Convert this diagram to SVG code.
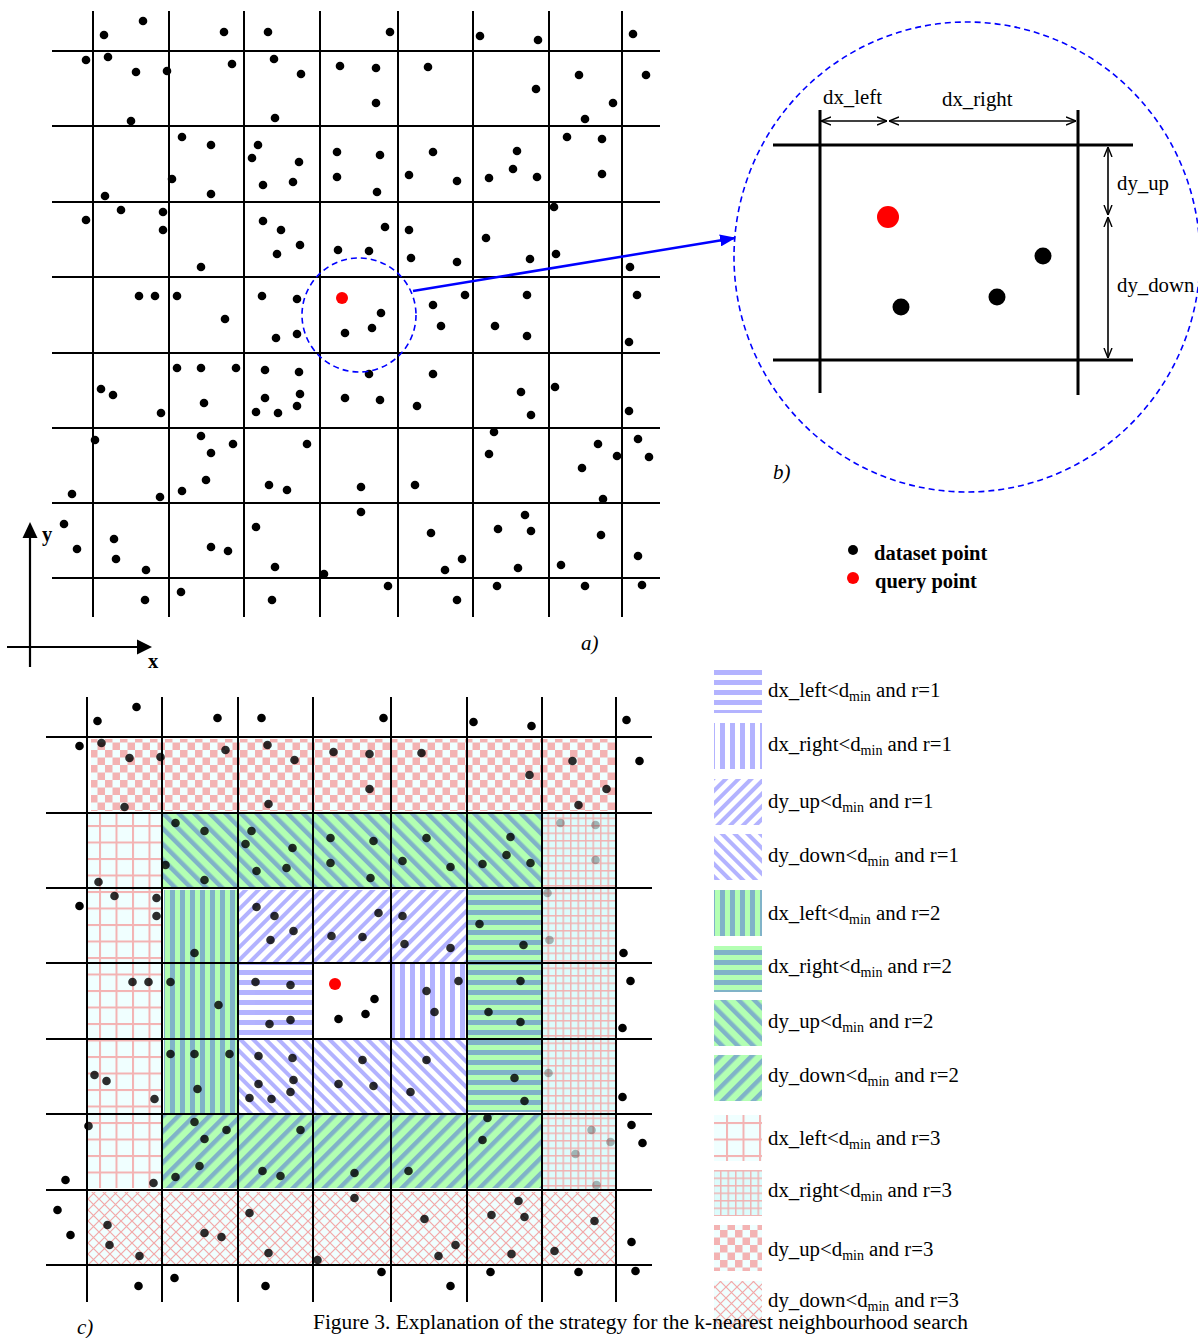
<svg xmlns="http://www.w3.org/2000/svg" xmlns:xlink="http://www.w3.org/1999/xlink" width="1198" height="1338" viewBox="0 0 1198 1338">
<style>
.g{stroke:#000;stroke-width:2;fill:none}
.gb{stroke:#000;stroke-width:3;fill:none}
.t{font-family:"Liberation Serif","Times New Roman",serif;font-size:20.8px;fill:#000}
.tb{font-family:"Liberation Serif","Times New Roman",serif;font-size:20.5px;font-weight:bold;fill:#000}
.ti{font-family:"Liberation Serif","Times New Roman",serif;font-size:21px;font-style:italic;fill:#000}
.dash{fill:none;stroke:#0000ff;stroke-width:1.6;stroke-dasharray:6 4}
#dotsA circle{fill:#000}
</style>
<defs>
<marker id="ah" viewBox="0 0 10 10" refX="10" refY="5" markerWidth="10" markerHeight="10" markerUnits="userSpaceOnUse" orient="auto-start-reverse"><path d="M0,1 L10,5 L0,9" fill="none" stroke="#000" stroke-width="1.4"/></marker>
<marker id="ab" viewBox="0 0 16 12" refX="15" refY="6" markerWidth="16" markerHeight="12" markerUnits="userSpaceOnUse" orient="auto"><path d="M0,0 L16,6 L0,12 Z" fill="#0000ff"/></marker>
<pattern id="p1h" width="10" height="10" patternUnits="userSpaceOnUse"><rect width="10" height="10" fill="#fff"/><rect width="10" height="5" fill="#b3b3ff"/></pattern>
<pattern id="p1v" width="10" height="10" patternUnits="userSpaceOnUse"><rect width="10" height="10" fill="#fff"/><rect width="5" height="10" fill="#b3b3ff"/></pattern>
<pattern id="p1u" width="9" height="9" patternUnits="userSpaceOnUse" patternTransform="rotate(45)"><rect width="9" height="9" fill="#fff"/><rect width="4" height="9" fill="#b3b3ff"/></pattern>
<pattern id="p1d" width="9" height="9" patternUnits="userSpaceOnUse" patternTransform="rotate(-45)"><rect width="9" height="9" fill="#fff"/><rect width="4" height="9" fill="#b3b3ff"/></pattern>
<pattern id="p2v" width="10" height="10" patternUnits="userSpaceOnUse"><rect width="10" height="10" fill="#b3ffb3"/><rect width="5" height="10" fill="#80b3c8"/></pattern>
<pattern id="p2h" width="10" height="10" patternUnits="userSpaceOnUse"><rect width="10" height="10" fill="#b3ffb3"/><rect width="10" height="5" fill="#80b3c8"/></pattern>
<pattern id="p2u" width="11" height="11" patternUnits="userSpaceOnUse" patternTransform="rotate(-45)"><rect width="11" height="11" fill="#b3ffb3"/><rect width="4.5" height="11" fill="#80b3c8"/></pattern>
<pattern id="p2d" width="11" height="11" patternUnits="userSpaceOnUse" patternTransform="rotate(45)"><rect width="11" height="11" fill="#b3ffb3"/><rect width="4.5" height="11" fill="#80b3c8"/></pattern>
<pattern id="p3l" width="16.5" height="16.5" patternUnits="userSpaceOnUse"><rect width="16.5" height="16.5" fill="#f0ffff"/><rect width="2" height="16.5" fill="#f3b3b3"/><rect width="16.5" height="2" fill="#f3b3b3"/></pattern>
<pattern id="p3r" width="7.5" height="7.5" patternUnits="userSpaceOnUse"><rect width="7.5" height="7.5" fill="#dcfcfc"/><rect width="1.5" height="7.5" fill="#f0b4b4"/><rect width="7.5" height="1.5" fill="#f0b4b4"/></pattern>
<pattern id="p3u" width="15" height="15" patternUnits="userSpaceOnUse"><rect width="15" height="15" fill="#f0ffff"/><rect width="7.5" height="7.5" fill="#f3b3b3"/><rect x="7.5" y="7.5" width="7.5" height="7.5" fill="#f3b3b3"/></pattern>
<pattern id="p3d" width="11" height="11" patternUnits="userSpaceOnUse"><rect width="11" height="11" fill="#f0ffff"/><path d="M0,0 L11,11 M11,0 L0,11" stroke="#f3a8a8" stroke-width="1.2"/></pattern>
<clipPath id="cOut"><path clip-rule="evenodd" d="M0,680H705V1338H0Z M87,737H616V1265H87Z M313,963H391V1039H313Z"/></clipPath>
<clipPath id="cCol"><path clip-rule="evenodd" d="M87,737H616V1265H87Z M542,813H616V1190H542Z M313,963H391V1039H313Z"/></clipPath>
<clipPath id="cRight"><rect x="542" y="813" width="74" height="377"/></clipPath>
</defs>
<rect width="1198" height="1338" fill="#fff"/>

<!-- Part a -->
<g id="gridA" class="g">
<path d="M93,11V617 M169,11V617 M244,11V617 M320,11V617 M398,11V617 M473,11V617 M549,11V617 M622,11V617"/>
<path d="M52,51H660 M52,126H660 M52,202H660 M52,277H660 M52,353H660 M52,428H660 M52,503H660 M52,578H660"/>
</g>
<g id="dotsA">
<circle cx="143" cy="21" r="4.3"/><circle cx="104" cy="35" r="4.3"/><circle cx="224" cy="32" r="4.3"/><circle cx="268" cy="32" r="4.3"/><circle cx="390" cy="32" r="4.3"/><circle cx="480" cy="36" r="4.3"/><circle cx="538" cy="40" r="4.3"/><circle cx="633" cy="34" r="4.3"/>
<circle cx="86" cy="60" r="4.3"/><circle cx="108" cy="57" r="4.3"/><circle cx="136" cy="72" r="4.3"/><circle cx="167" cy="71" r="4.3"/><circle cx="232" cy="64" r="4.3"/><circle cx="274" cy="59" r="4.3"/><circle cx="301" cy="74" r="4.3"/><circle cx="340" cy="66" r="4.3"/><circle cx="376" cy="68" r="4.3"/><circle cx="376" cy="103" r="4.3"/><circle cx="428" cy="67" r="4.3"/><circle cx="536" cy="89" r="4.3"/><circle cx="579" cy="75" r="4.3"/><circle cx="646" cy="75" r="4.3"/><circle cx="613" cy="103" r="4.3"/><circle cx="585" cy="119" r="4.3"/><circle cx="131" cy="121" r="4.3"/><circle cx="275" cy="118" r="4.3"/>
<circle cx="182" cy="137" r="4.3"/><circle cx="211" cy="145" r="4.3"/><circle cx="258" cy="145" r="4.3"/><circle cx="252" cy="158" r="4.3"/><circle cx="299" cy="162" r="4.3"/><circle cx="172" cy="179" r="4.3"/><circle cx="211" cy="194" r="4.3"/><circle cx="263" cy="185" r="4.3"/><circle cx="293" cy="182" r="4.3"/><circle cx="337" cy="152" r="4.3"/><circle cx="380" cy="155" r="4.3"/><circle cx="433" cy="152" r="4.3"/><circle cx="517" cy="151" r="4.3"/><circle cx="567" cy="137" r="4.3"/><circle cx="602" cy="139" r="4.3"/><circle cx="337" cy="177" r="4.3"/><circle cx="377" cy="192" r="4.3"/><circle cx="409" cy="175" r="4.3"/><circle cx="457" cy="181" r="4.3"/><circle cx="489" cy="178" r="4.3"/><circle cx="513" cy="169" r="4.3"/><circle cx="537" cy="177" r="4.3"/><circle cx="602" cy="174" r="4.3"/><circle cx="105" cy="196" r="4.3"/>
<circle cx="121" cy="210" r="4.3"/><circle cx="163" cy="212" r="4.3"/><circle cx="86" cy="220" r="4.3"/><circle cx="163" cy="230" r="4.3"/><circle cx="201" cy="267" r="4.3"/><circle cx="263" cy="221" r="4.3"/><circle cx="281" cy="230" r="4.3"/><circle cx="300" cy="245" r="4.3"/><circle cx="277" cy="254" r="4.3"/><circle cx="338" cy="250" r="4.3"/><circle cx="554" cy="207" r="4.3"/><circle cx="385" cy="227" r="4.3"/><circle cx="409" cy="230" r="4.3"/><circle cx="369" cy="251" r="4.3"/><circle cx="411" cy="258" r="4.3"/><circle cx="457" cy="262" r="4.3"/><circle cx="486" cy="238" r="4.3"/><circle cx="530" cy="259" r="4.3"/><circle cx="556" cy="254" r="4.3"/><circle cx="630" cy="267" r="4.3"/>
<circle cx="139" cy="296" r="4.3"/><circle cx="155" cy="296" r="4.3"/><circle cx="177" cy="296" r="4.3"/><circle cx="225" cy="319" r="4.3"/><circle cx="262" cy="296" r="4.3"/><circle cx="297" cy="299" r="4.3"/><circle cx="297" cy="334" r="4.3"/><circle cx="276" cy="338" r="4.3"/><circle cx="381" cy="313" r="4.3"/><circle cx="345" cy="333" r="4.3"/><circle cx="372" cy="328" r="4.3"/><circle cx="433" cy="305" r="4.3"/><circle cx="441" cy="326" r="4.3"/><circle cx="465" cy="295" r="4.3"/><circle cx="527" cy="295" r="4.3"/><circle cx="495" cy="326" r="4.3"/><circle cx="527" cy="336" r="4.3"/><circle cx="637" cy="295" r="4.3"/><circle cx="629" cy="342" r="4.3"/>
<circle cx="177" cy="368" r="4.3"/><circle cx="201" cy="368" r="4.3"/><circle cx="236" cy="368" r="4.3"/><circle cx="265" cy="370" r="4.3"/><circle cx="299" cy="372" r="4.3"/><circle cx="101" cy="389" r="4.3"/><circle cx="113" cy="395" r="4.3"/><circle cx="204" cy="403" r="4.3"/><circle cx="161" cy="413" r="4.3"/><circle cx="265" cy="398" r="4.3"/><circle cx="300" cy="394" r="4.3"/><circle cx="297" cy="406" r="4.3"/><circle cx="256" cy="412" r="4.3"/><circle cx="278" cy="413" r="4.3"/><circle cx="369" cy="374" r="4.3"/><circle cx="433" cy="374" r="4.3"/><circle cx="345" cy="398" r="4.3"/><circle cx="380" cy="400" r="4.3"/><circle cx="417" cy="406" r="4.3"/><circle cx="521" cy="392" r="4.3"/><circle cx="531" cy="415" r="4.3"/><circle cx="555" cy="387" r="4.3"/><circle cx="629" cy="411" r="4.3"/>
<circle cx="95" cy="440" r="4.3"/><circle cx="201" cy="436" r="4.3"/><circle cx="211" cy="453" r="4.3"/><circle cx="233" cy="444" r="4.3"/><circle cx="307" cy="444" r="4.3"/><circle cx="206" cy="480" r="4.3"/><circle cx="182" cy="491" r="4.3"/><circle cx="160" cy="497" r="4.3"/><circle cx="72" cy="494" r="4.3"/><circle cx="269" cy="485" r="4.3"/><circle cx="287" cy="490" r="4.3"/><circle cx="494" cy="432" r="4.3"/><circle cx="489" cy="454" r="4.3"/><circle cx="598" cy="444" r="4.3"/><circle cx="617" cy="456" r="4.3"/><circle cx="638" cy="439" r="4.3"/><circle cx="649" cy="457" r="4.3"/><circle cx="582" cy="468" r="4.3"/><circle cx="603" cy="499" r="4.3"/><circle cx="361" cy="487" r="4.3"/><circle cx="415" cy="485" r="4.3"/>
<circle cx="64" cy="524" r="4.3"/><circle cx="77" cy="549" r="4.3"/><circle cx="114" cy="539" r="4.3"/><circle cx="116" cy="559" r="4.3"/><circle cx="146" cy="570" r="4.3"/><circle cx="211" cy="547" r="4.3"/><circle cx="228" cy="551" r="4.3"/><circle cx="256" cy="527" r="4.3"/><circle cx="275" cy="567" r="4.3"/><circle cx="324" cy="574" r="4.3"/><circle cx="361" cy="512" r="4.3"/><circle cx="431" cy="533" r="4.3"/><circle cx="445" cy="570" r="4.3"/><circle cx="462" cy="559" r="4.3"/><circle cx="498" cy="529" r="4.3"/><circle cx="525" cy="515" r="4.3"/><circle cx="531" cy="531" r="4.3"/><circle cx="518" cy="568" r="4.3"/><circle cx="561" cy="565" r="4.3"/><circle cx="601" cy="535" r="4.3"/><circle cx="638" cy="556" r="4.3"/>
<circle cx="145" cy="600" r="4.3"/><circle cx="181" cy="592" r="4.3"/><circle cx="272" cy="600" r="4.3"/><circle cx="388" cy="586" r="4.3"/><circle cx="457" cy="600" r="4.3"/><circle cx="497" cy="586" r="4.3"/><circle cx="585" cy="586" r="4.3"/><circle cx="642" cy="585" r="4.3"/>
</g>
<g id="queryA"><circle cx="342" cy="298" r="6" fill="#ff0000"/></g>
<g id="zoomCircleA"><circle class="dash" cx="359" cy="315" r="57"/></g>
<g id="axes">
<path d="M30,667V535 M7,647H140" stroke="#000" stroke-width="2.2" fill="none"/>
<path d="M22.5,538 L30,522 L37.5,538 Z" fill="#000"/>
<path d="M137,639.5 L152,647 L137,654.5 Z" fill="#000"/>
<text class="tb" x="42" y="541">y</text>
<text class="tb" x="148" y="668">x</text>
</g>
<text class="ti" x="581" y="650">a)</text>

<!-- Part b -->
<g id="partB">
<ellipse class="dash" cx="967" cy="257" rx="233" ry="235"/>
<path class="gb" d="M773,145H1133 M773,360H1133 M820,110V393 M1078,110V395"/>
<circle cx="888" cy="217" r="11" fill="#ff0000"/>
<circle cx="1043" cy="256" r="8.5" fill="#000"/>
<circle cx="901" cy="307" r="8.5" fill="#000"/>
<circle cx="997" cy="297" r="8.5" fill="#000"/>
<text class="t" x="823" y="104">dx_left</text>
<text class="t" x="942" y="106">dx_right</text>
<text class="t" x="1117" y="190">dy_up</text>
<text class="t" x="1117" y="292">dy_down</text>
<text class="ti" x="773" y="479">b)</text>
</g>
<g id="dims" stroke="#000" stroke-width="1.6" fill="none">
<line x1="821" y1="121" x2="887" y2="121" marker-start="url(#ah)" marker-end="url(#ah)"/>
<line x1="889" y1="121" x2="1076" y2="121" marker-start="url(#ah)" marker-end="url(#ah)"/>
<line x1="1108" y1="147" x2="1108" y2="215" marker-start="url(#ah)" marker-end="url(#ah)"/>
<line x1="1108" y1="217" x2="1108" y2="358" marker-start="url(#ah)" marker-end="url(#ah)"/>
</g>
<g id="connectors">
<line x1="413" y1="291" x2="735" y2="238" stroke="#0000ff" stroke-width="2.5" marker-end="url(#ab)"/>
</g>

<g id="legendA">
<circle cx="853" cy="550" r="5" fill="#000"/>
<text class="tb" x="874" y="560">dataset point</text>
<circle cx="853" cy="578" r="6" fill="#ff0000"/>
<text class="tb" x="875" y="588">query point</text>
</g>

<!-- Part c -->
<g id="regionsC">
<rect x="91" y="739" width="525" height="72" fill="url(#p3u)"/>
<rect x="88" y="814" width="73" height="374" fill="url(#p3l)"/>
<rect x="88" y="1192" width="528" height="72" fill="url(#p3d)"/>
<rect x="542" y="813" width="74" height="376" fill="url(#p3r)"/>
<rect x="163" y="814" width="379" height="73" fill="url(#p2u)"/>
<rect x="163" y="1115" width="379" height="73" fill="url(#p2d)"/>
<rect x="164" y="890" width="73" height="223" fill="url(#p2v)"/>
<rect x="468" y="890" width="73" height="222" fill="url(#p2h)"/>
<rect x="239" y="890" width="227" height="72" fill="url(#p1u)"/>
<rect x="239" y="1040" width="227" height="73" fill="url(#p1d)"/>
<rect x="239" y="964" width="73" height="74" fill="url(#p1h)"/>
<rect x="392" y="964" width="74" height="74" fill="url(#p1v)"/>
</g>
<g id="gridC" class="g">
<path d="M87,697V1302 M162,697V1302 M238,697V1302 M313,697V1302 M391,697V1302 M467,697V1302 M542,697V1302 M616,697V1302"/>
<path d="M46,737H652 M46,813H652 M46,888H652 M46,963H652 M46,1039H652 M46,1114H652 M46,1190H652 M46,1265H652"/>
</g>
<g id="dotsC">
<g clip-path="url(#cOut)"><use xlink:href="#dotsA" href="#dotsA" transform="translate(-6.5,686)"/></g>
<g clip-path="url(#cCol)" opacity="0.82"><use xlink:href="#dotsA" href="#dotsA" transform="translate(-6.5,686)"/></g>
<g clip-path="url(#cRight)" opacity="0.28"><use xlink:href="#dotsA" href="#dotsA" transform="translate(-6.5,686)"/></g>
<circle cx="335" cy="984" r="6" fill="#ff0000"/>
</g>
<text class="ti" x="77" y="1334">c)</text>

<g id="legendC">
<rect x="714" y="667" width="48" height="46" fill="url(#p1h)"/>
<rect x="714" y="723" width="48" height="46" fill="url(#p1v)"/>
<rect x="714" y="779" width="48" height="46" fill="url(#p1u)"/>
<rect x="714" y="834" width="48" height="46" fill="url(#p1d)"/>
<rect x="714" y="890" width="48" height="46" fill="url(#p2v)"/>
<rect x="714" y="946" width="48" height="46" fill="url(#p2h)"/>
<rect x="714" y="1000" width="48" height="46" fill="url(#p2u)"/>
<rect x="714" y="1055" width="48" height="46" fill="url(#p2d)"/>
<rect x="714" y="1115" width="48" height="46" fill="url(#p3l)"/>
<rect x="714" y="1170" width="48" height="46" fill="url(#p3r)"/>
<rect x="714" y="1225" width="48" height="46" fill="url(#p3u)"/>
<rect x="714" y="1281" width="48" height="46" fill="url(#p3d)"/>
<text class="t" x="768" y="697">dx_left&lt;d<tspan font-size="14" dy="4">min</tspan><tspan dy="-4"> and r=1</tspan></text>
<text class="t" x="768" y="751">dx_right&lt;d<tspan font-size="14" dy="4">min</tspan><tspan dy="-4"> and r=1</tspan></text>
<text class="t" x="768" y="808">dy_up&lt;d<tspan font-size="14" dy="4">min</tspan><tspan dy="-4"> and r=1</tspan></text>
<text class="t" x="768" y="862">dy_down&lt;d<tspan font-size="14" dy="4">min</tspan><tspan dy="-4"> and r=1</tspan></text>
<text class="t" x="768" y="920">dx_left&lt;d<tspan font-size="14" dy="4">min</tspan><tspan dy="-4"> and r=2</tspan></text>
<text class="t" x="768" y="973">dx_right&lt;d<tspan font-size="14" dy="4">min</tspan><tspan dy="-4"> and r=2</tspan></text>
<text class="t" x="768" y="1028">dy_up&lt;d<tspan font-size="14" dy="4">min</tspan><tspan dy="-4"> and r=2</tspan></text>
<text class="t" x="768" y="1082">dy_down&lt;d<tspan font-size="14" dy="4">min</tspan><tspan dy="-4"> and r=2</tspan></text>
<text class="t" x="768" y="1145">dx_left&lt;d<tspan font-size="14" dy="4">min</tspan><tspan dy="-4"> and r=3</tspan></text>
<text class="t" x="768" y="1197">dx_right&lt;d<tspan font-size="14" dy="4">min</tspan><tspan dy="-4"> and r=3</tspan></text>
<text class="t" x="768" y="1256">dy_up&lt;d<tspan font-size="14" dy="4">min</tspan><tspan dy="-4"> and r=3</tspan></text>
<text class="t" x="768" y="1307">dy_down&lt;d<tspan font-size="14" dy="4">min</tspan><tspan dy="-4"> and r=3</tspan></text>
</g>
<text class="t" x="313" y="1329" textLength="655" lengthAdjust="spacingAndGlyphs">Figure 3. Explanation of the strategy for the k-nearest neighbourhood search</text>
</svg>
